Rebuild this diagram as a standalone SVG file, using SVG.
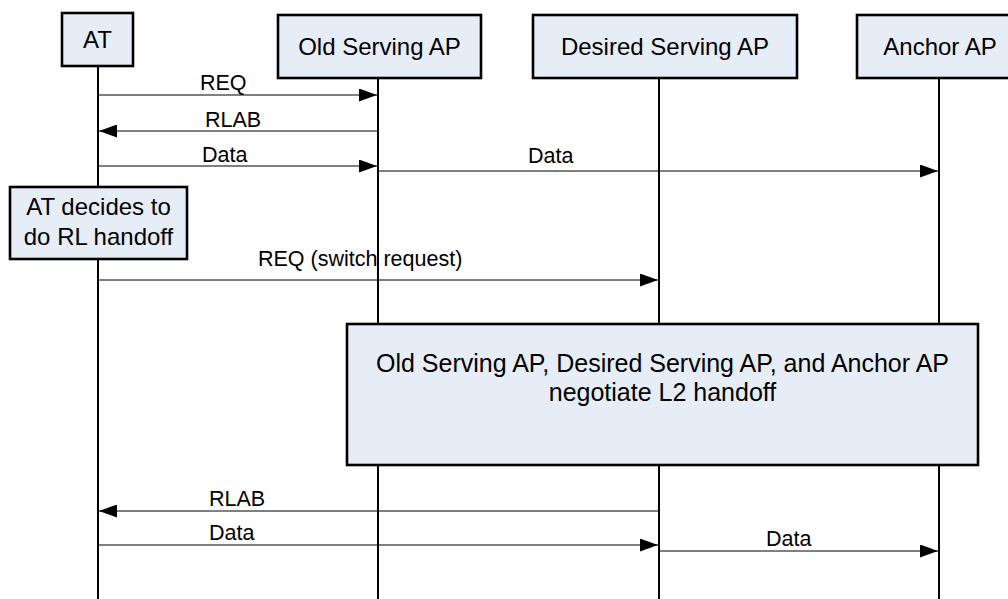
<svg xmlns="http://www.w3.org/2000/svg" width="1008" height="599" viewBox="0 0 1008 599">
  <style>
    .box { fill: #E7EDF7; stroke: #000; stroke-width: 2.6; }
    .life { stroke: #000; stroke-width: 2; fill: none; }
    .msg { stroke: #000; stroke-width: 1; fill: none; marker-end: url(#head); }
    .t { font-family: "Liberation Sans", Arial, sans-serif; font-size: 24px; fill: #000; text-anchor: middle; }
    .big { font-size: 25px; }
    .lbl { font-family: "Liberation Sans", Arial, sans-serif; font-size: 21.5px; fill: #000; }
  </style>
  <defs>
    <marker id="head" viewBox="0 0 18 13" refX="18" refY="6.5" markerWidth="18" markerHeight="13" markerUnits="userSpaceOnUse" orient="auto">
      <path d="M0,0 L18,6.5 L0,13 Z" fill="#000"/>
    </marker>
  </defs>

  <!-- lifelines -->
  <g id="lifelines">
    <line class="life" x1="98" y1="66" x2="98" y2="599"/>
    <line class="life" x1="378" y1="78" x2="378" y2="599"/>
    <line class="life" x1="659" y1="78" x2="659" y2="599"/>
    <line class="life" x1="939" y1="78" x2="939" y2="599"/>
  </g>

  <!-- messages -->
  <g id="connectors">
    <line class="msg" x1="99" y1="95" x2="377" y2="95"/>
    <text class="lbl" x="200" y="90">REQ</text>

    <line class="msg" x1="377" y1="131" x2="99" y2="131"/>
    <text class="lbl" x="205" y="127">RLAB</text>

    <line class="msg" x1="99" y1="166" x2="377" y2="166"/>
    <text class="lbl" x="202" y="162">Data</text>

    <line class="msg" x1="379" y1="171" x2="938" y2="171"/>
    <text class="lbl" x="528" y="163">Data</text>

    <line class="msg" x1="99" y1="280" x2="658" y2="280"/>
    <text class="lbl" x="258" y="266">REQ (switch request)</text>

    <line class="msg" x1="658" y1="511" x2="99" y2="511"/>
    <text class="lbl" x="209" y="506">RLAB</text>

    <line class="msg" x1="99" y1="545" x2="658" y2="545"/>
    <text class="lbl" x="209" y="540">Data</text>

    <line class="msg" x1="660" y1="551" x2="938" y2="551"/>
    <text class="lbl" x="766" y="546">Data</text>
  </g>

  <!-- participants -->
  <g id="node-at">
    <rect class="box" x="62" y="13" width="71" height="53"/>
    <text class="t" x="97.5" y="48">AT</text>
  </g>
  <g id="node-old-ap">
    <rect class="box" x="278" y="15" width="203" height="63"/>
    <text class="t" x="379.5" y="55">Old Serving AP</text>
  </g>
  <g id="node-desired-ap">
    <rect class="box" x="533" y="15" width="264" height="63"/>
    <text class="t" x="665" y="55">Desired Serving AP</text>
  </g>
  <g id="node-anchor-ap">
    <rect class="box" x="857" y="15" width="166" height="63"/>
    <text class="t" x="940" y="55">Anchor AP</text>
  </g>

  <!-- notes -->
  <g id="node-at-decides">
    <rect class="box" x="10" y="187" width="177" height="72"/>
    <text class="t" x="98.5" y="215">AT decides to</text>
    <text class="t" x="98.5" y="245">do RL handoff</text>
  </g>
  <g id="node-negotiate">
    <rect class="box" x="347" y="324" width="631" height="141"/>
    <text class="t big" x="662.5" y="372">Old Serving AP, Desired Serving AP, and Anchor AP</text>
    <text class="t big" x="662.5" y="401">negotiate L2 handoff</text>
  </g>
</svg>
